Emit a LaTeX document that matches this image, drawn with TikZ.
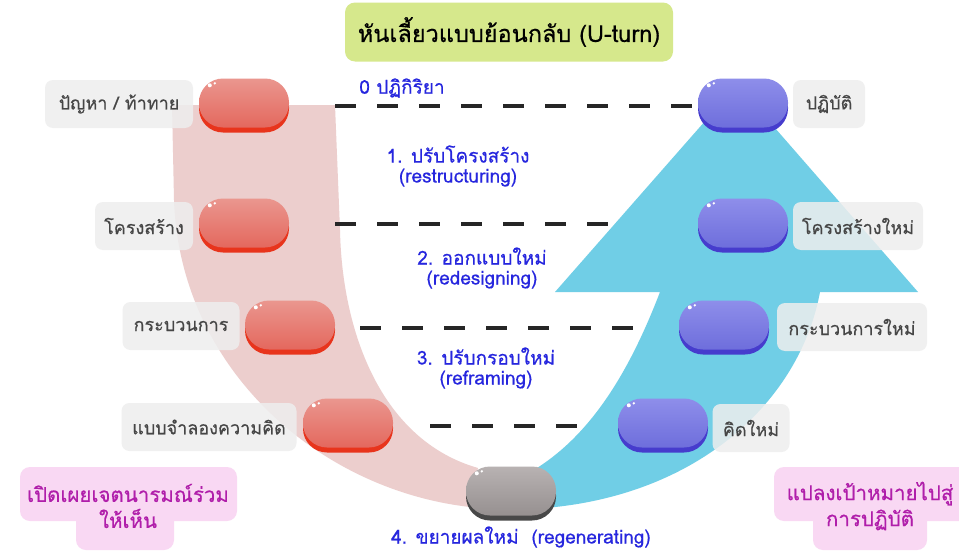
\documentclass[tikz,border=0pt]{standalone}
\usepackage{fontspec}
\setmainfont[Script=Thai,FakeBold=0.5]{Loma}
\usetikzlibrary{calc}
\definecolor{bandpink}{RGB}{236,206,205}
\definecolor{arrowblue}{RGB}{112,206,230}
\definecolor{titlegreen}{RGB}{214,232,140}
\definecolor{stepblue}{RGB}{38,38,222}
\definecolor{noteback}{RGB}{249,216,243}
\definecolor{notetext}{RGB}{176,30,170}
\definecolor{labelgray}{RGB}{238,238,238}
\definecolor{labeltext}{RGB}{70,70,70}
\definecolor{redtop}{RGB}{234,150,142}
\definecolor{redbot}{RGB}{228,104,94}
\definecolor{redrim}{RGB}{232,52,28}
\definecolor{bluetop}{RGB}{142,142,234}
\definecolor{bluebot}{RGB}{110,110,220}
\definecolor{bluerim}{RGB}{70,60,205}
\definecolor{graytop}{RGB}{184,178,178}
\definecolor{graybot}{RGB}{150,144,144}
\definecolor{grayrim}{RGB}{72,72,72}
\tikzset{
  pillbody/.style={rounded corners=24pt, minimum width=90pt, minimum height=49pt, inner sep=0pt},
  pillrim/.style={rounded corners=24pt, minimum width=90pt, minimum height=49pt, inner sep=0pt},
  graylabel/.style={fill=labelgray, fill opacity=0.85, text opacity=1, text=labeltext, rounded corners=8pt, minimum height=48pt, inner sep=0pt, font=\fontsize{18}{21}\selectfont},
  steptext/.style={text=stepblue, font=\fontsize{19}{20}\selectfont, inner sep=0pt, align=center},
  notebox/.style={fill=noteback, rounded corners=10pt, inner sep=0pt},
  notetxt/.style={text=notetext, font=\fontsize{20.5}{26}\selectfont, align=center, inner sep=0pt},
  dashrow/.style={line width=3.2pt, dash pattern=on 21pt off 21pt, black!85},
}
\newcommand\mypill[6]{%
  \node[pillrim, fill=#6] (#1rim) at (#2,#3+3) {};
  \node[pillbody, top color=#4, bottom color=#5] (#1) at (#2,#3-2) {};
  \fill[white] ($(#1.north west)+(11pt,-7pt)$) circle (2pt);
  \fill[white] ($(#1.north west)+(16pt,-5pt)$) circle (1.3pt);
}
\begin{document}
\begin{tikzpicture}[x=1pt,y=-1pt]
\useasboundingbox (0,0) rectangle (959,554);
\fill[white] (0,0) rectangle (959,554);

% pink band (left side of the U)
\fill[bandpink] (172,105) -- (335,105) -- (340,230)
  .. controls (342,330) and (380,440) .. (478,468)
  -- (470,507) .. controls (320,490) and (180,370) .. (174,200) -- cycle;

% blue arrow (right side of the U)
\fill[arrowblue] (555,292) -- (706,120) -- (768,120) -- (918,292) -- (820,292)
  .. controls (800,400) and (700,495) .. (545,508)
  -- (525,475) .. controls (590,440) and (630,370) .. (660,292) -- cycle;

% title
\node[fill=titlegreen, rounded corners=10pt, minimum width=328pt, minimum height=59pt, inner sep=0pt,
  font=\fontsize{23.5}{26}\selectfont] (title) at (509,32) {หันเลี้ยวแบบย้อนกลับ (U-turn)};

% dashed rows
\coordinate (d0a) at (335,106);
\coordinate (d1a) at (335,224);
\coordinate (d1b) at (612,224);
\coordinate (d2a) at (360,328);
\coordinate (d2b) at (650,328);
\coordinate (d3a) at (430,426);
\coordinate (d3b) at (584,426);

% pills
\mypill{r1}{244}{105}{redtop}{redbot}{redrim}
\mypill{r2}{244}{225}{redtop}{redbot}{redrim}
\mypill{r3}{290}{327}{redtop}{redbot}{redrim}
\mypill{r4}{348}{425}{redtop}{redbot}{redrim}
\mypill{b1}{743}{105}{bluetop}{bluebot}{bluerim}
\mypill{b2}{743}{225}{bluetop}{bluebot}{bluerim}
\mypill{b3}{724}{327}{bluetop}{bluebot}{bluerim}
\mypill{b4}{663}{425}{bluetop}{bluebot}{bluerim}
\mypill{g0}{511}{493}{graytop}{graybot}{grayrim}

\draw[dashrow] (d0a) -- (b1.west |- d0a);
\draw[dashrow] (d1a) -- (d1b);
\draw[dashrow] (d2a) -- (d2b);
\draw[dashrow] (d3a) -- (d3b);

% gray labels
\node[graylabel, minimum width=148pt] (l1) at (119,104) {ปัญหา / ท้าทาย};
\node[graylabel, minimum width=98pt] (l2) at (144,226) {โครงสร้าง};
\node[graylabel, minimum width=117pt] (l3) at (181,326) {กระบวนการ};
\node[graylabel, minimum width=175pt] (l4) at (209,427) {แบบจำลองความคิด};
\node[graylabel, minimum width=72pt] (m1) at (829,104) {ปฏิบัติ};
\node[graylabel, minimum width=130pt] (m2) at (858,226) {โครงสร้างใหม่};
\node[graylabel, minimum width=150pt] (m3) at (852,327) {กระบวนการใหม่};
\node[graylabel, minimum width=77pt] (m4) at (751,428) {คิดใหม่};

% step texts
\node[steptext] (s0) at (402,88) {0 ปฏิกิริยา};
\node[steptext] (s1) at (458,166) {1. ปรับโครงสร้าง\\(restructuring)};
\node[steptext] (s2) at (482,268) {2. ออกแบบใหม่\\(redesigning)};
\node[steptext] (s3) at (486,368) {3. ปรับกรอบใหม่\\(reframing)};
\node[steptext] (s4) at (521,537) {4. ขยายผลใหม่\ \ (regenerating)};

% pink notes
\fill[noteback, rounded corners=10pt] (20,467) rectangle (237,521);
\fill[noteback, rounded corners=10pt] (76,505) rectangle (174,550);
\node[notetxt] (n1) at (128,506) {เปิดเผยเจตนารมณ์ร่วม\\ให้เห็น};
\fill[noteback, rounded corners=10pt] (774,467) rectangle (975,521);
\fill[noteback, rounded corners=10pt] (813,505) rectangle (927,550);
\node[notetxt] (n2) at (870,506) {แปลงเป้าหมายไปสู่\\การปฏิบัติ};
\end{tikzpicture}
\end{document}
